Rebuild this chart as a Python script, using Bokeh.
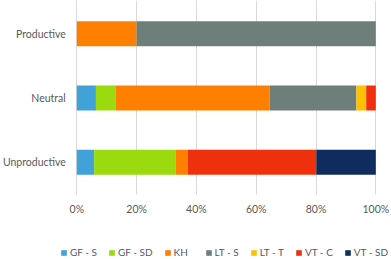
from bokeh.plotting import figure
from bokeh.models import (ColumnDataSource, FixedTicker, Range1d, Legend, LegendItem,
                          BoxAnnotation)
from bokeh.embed import file_html
from bokeh.resources import INLINE

categories = ["Unproductive", "Neutral", "Productive"]
series = ["GF - S", "GF - SD", "KH", "LT - S", "LT - T", "VT - C", "VT - SD"]
gf_s = [5.8, 6.4, 0.0]
gf_sd = [27.3, 6.5, 0.0]
kh = [4.0, 51.6, 20.0]
lt_s = [0.0, 29.0, 80.0]
lt_t = [0.0, 3.3, 0.0]
vt_c = [43.0, 3.2, 0.0]
vt_sd = [19.9, 0.0, 0.0]
x_ticks = [0, 20, 40, 60, 80, 100]
x_tick_labels = ["0%", "20%", "40%", "60%", "80%", "100%"]
colors = ["#41A2D8", "#9ADA0E", "#FF8000", "#6E7F7B", "#FFC000", "#EF300C", "#0E2C5E"]

FONT = "Lato"
TXT = "#595959"

ypos = [i + 0.5 for i in range(len(categories))]
data = {"y": ypos}
for name, vals in zip(series, [gf_s, gf_sd, kh, lt_s, lt_t, vt_c, vt_sd]):
    data[name] = vals
source = ColumnDataSource(data)

# whole figure is the frame; axes are placed inside it at fixed locations
p = figure(frame_width=389, frame_height=259, output_backend="svg", toolbar_location=None,
           x_range=Range1d(-25.52, 104.58), y_range=Range1d(-1.011, 3.016),
           min_border=0, min_border_top=0, min_border_right=0, min_border_left=0,
           min_border_bottom=0)
p.outline_line_color = None

renderers = p.hbar_stack(series, y="y", height=0.39, color=colors, line_width=0, source=source)

p.xaxis.ticker = FixedTicker(ticks=x_ticks)
p.xaxis.major_label_overrides = {t: l for t, l in zip(x_ticks, x_tick_labels)}
p.xaxis.fixed_location = 0
p.yaxis.ticker = FixedTicker(ticks=ypos)
p.yaxis.major_label_overrides = {y: c for y, c in zip(ypos, categories)}
p.yaxis.fixed_location = 0
for ax in (p.xaxis, p.yaxis):
    ax.axis_line_color = None
    ax.major_tick_line_color = None
    ax.minor_tick_line_color = None
    ax.major_tick_out = 0
    ax.minor_tick_out = 0
    ax.major_label_text_font = FONT
    ax.major_label_text_font_size = "10.5px"
    ax.major_label_text_color = TXT
p.xaxis.major_label_standoff = 9
p.yaxis.major_label_standoff = 11

p.ygrid.grid_line_color = None
p.xgrid.ticker = FixedTicker(ticks=x_ticks)
p.xgrid.grid_line_color = "#D9D9D9"
p.xgrid.grid_line_width = 1

# white mask so the vertical grid lines stop at the bottom of the bar area
mask = BoxAnnotation(top=0, fill_color="white", fill_alpha=1.0, line_alpha=0, level="underlay")
p.add_layout(mask)

legend = Legend(items=[LegendItem(label=s, renderers=[r]) for s, r in zip(series, renderers)],
                orientation="horizontal", location=(60, 1), padding=0, margin=0,
                border_line_color=None, background_fill_alpha=0,
                glyph_width=7, glyph_height=7, label_standoff=3, spacing=11,
                label_text_font=FONT, label_text_font_size="10px", label_text_color=TXT,
                label_height=12)
p.add_layout(legend)

open("out.html", "w").write(file_html(p, INLINE))
